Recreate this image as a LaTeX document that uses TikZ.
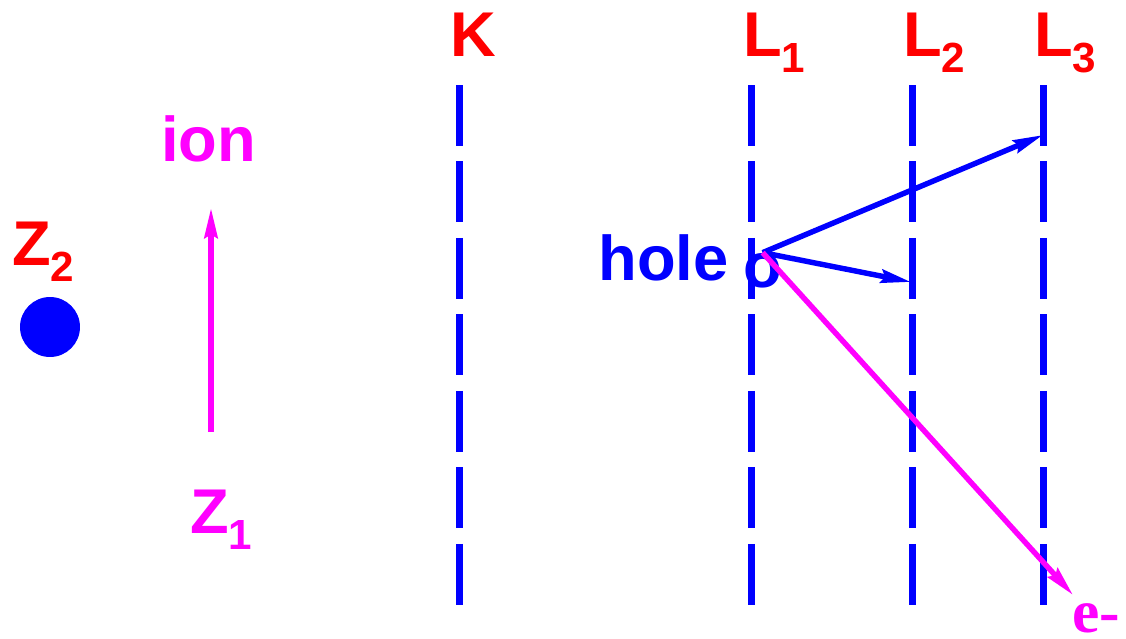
\documentclass[tikz,border=0pt]{standalone}
\usepackage{fontspec}
\setmainfont{Liberation Sans}
\newfontfamily\timesbf{Liberation Serif}
\usetikzlibrary{arrows.meta}
\definecolor{pmag}{RGB}{255,0,255}
\newcommand{\subs}[1]{\raisebox{-9.6pt}{\fontsize{24}{25}\selectfont #1}}

\begin{document}
\begin{tikzpicture}[x=0.02cm,y=-0.02cm,
  every node/.style={font=\fontsize{36}{40}\selectfont\bfseries,inner sep=0pt,anchor=base west},
  shell/.style={blue,line width=3.9pt,dash pattern=on 1.22cm off 0.31cm},
  arr/.style={line width=3.1pt,-{Stealth[length=17pt,width=7.5pt,inset=2pt]}}]
\useasboundingbox (0,0) rectangle (1126,639);
% shells K, L1, L2, L3
\foreach \x in {459.5,751.5,912.5,1043.5} {\draw[shell] (\x,85) -- (\x,605);}
\node[red] (k) at (450,56) {K};
\node[red] (l1) at (743,56) {L\subs{1}};
\node[red] (l2) at (903,56) {L\subs{2}};
\node[red] (l3) at (1034,56) {L\subs{3}};
% target atom and incoming ion
\node[red] (z2) at (12,265) {Z\subs{2}};
\node[circle,fill=blue,minimum size=1.2cm,anchor=center] (nuc) at (50,327) {};
\node[pmag] (z1) at (190,533) {Z\subs{1}};
\node[pmag] (ion) at (161,161) {ion};
\coordinate (ionfoot) at (211,432);
\coordinate (ionhead) at (211,208);
\draw[arr,pmag] (ionfoot) -- (ionhead);
% vacancy and its filling
\node[blue] (holetxt) at (598,280) {hole};
\node[blue] (hole) at (743,287) {o};
\coordinate (tl2) at (911,282);
\coordinate (tl3) at (1043,135);
\coordinate (tel) at (1073,595);
\draw[arr,blue] (hole.north) -- (tl3);
\draw[arr,blue] (hole.north) -- (tl2);
\draw[arr,pmag] (hole.north) -- (tel);
\node[pmag,font=\fontsize{35}{40}\selectfont\timesbf\bfseries] (elec) at (1072,632) {e-};
\end{tikzpicture}
\end{document}
